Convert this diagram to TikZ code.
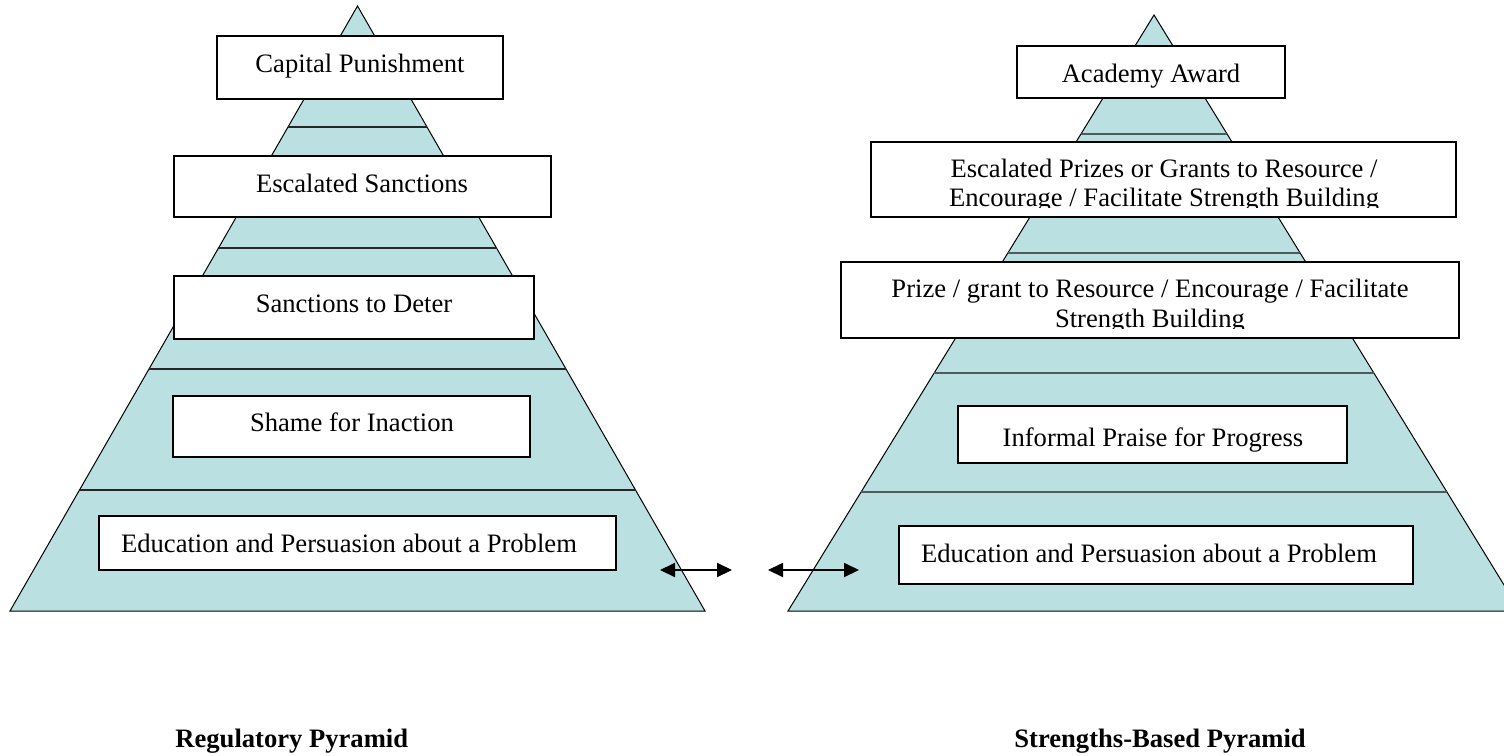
\documentclass[tikz,border=0pt]{standalone}
\usepackage{fontspec}
\setmainfont{Liberation Serif}
\usetikzlibrary{arrows.meta,fit,calc}
\definecolor{pyr}{RGB}{186,224,226}
\definecolor{bandR}{RGB}{80,90,90}
\begin{document}
\begin{tikzpicture}[x=0.5pt,y=-0.5pt,
  pyramid/.style={fill=pyr, draw=black, line width=0.5pt},
  bandL/.style={draw=black!85, line width=1pt},
  bandRs/.style={draw=bandR, line width=1pt},
  box/.style={draw=black, line width=1pt, fill=white, inner sep=0pt},
  txt/.style={font=\fontsize{13.3}{15}\selectfont, inner sep=0pt, anchor=base},
  lbl/.style={font=\fontsize{13.3}{15}\selectfont\bfseries, inner sep=0pt, anchor=base west},
  arr/.style={{Triangle[length=7.5pt,width=7pt]}-{Triangle[length=7.5pt,width=7pt]}, line width=1pt}]
\useasboundingbox (0,0) rectangle (1504,755);
\clip (0,0) rectangle (1504,755);

% Left pyramid
\coordinate (LA) at (357.5,6);
\coordinate (LBl) at (10,611);
\coordinate (LBr) at (705,611);
\draw[pyramid] (LA) -- (LBr) -- (LBl) -- cycle;
\foreach \t in {0.2,0.4,0.6,0.8} \draw[bandL] ($(LA)!\t!(LBl)$) -- ($(LA)!\t!(LBr)$);

% Right pyramid
\coordinate (RA) at (1154,15);
\coordinate (RBl) at (788,611);
\coordinate (RBr) at (1520,611);
\draw[pyramid] (RA) -- (RBr) -- (RBl) -- cycle;
\foreach \t in {0.2,0.4,0.6,0.8} \draw[bandRs] ($(RA)!\t!(RBl)$) -- ($(RA)!\t!(RBr)$);

% Left boxes
\node[box, fit={(217,36)(503,99)}] (bCap) {};
\node[txt] (tCap) at (360,72) {Capital Punishment};
\node[box, fit={(174,156)(551,217)}] (bEscS) {};
\node[txt] (tEscS) at (362,192) {Escalated Sanctions};
\node[box, fit={(174,276)(534,339)}] (bDet) {};
\node[txt] (tDet) at (354,312) {Sanctions to Deter};
\node[box, fit={(173,396)(530,457)}] (bSham) {};
\node[txt] (tSham) at (352,431) {Shame for Inaction};
\node[box, fit={(99,516)(616,570)}] (bEduL) {};
\node[txt] (tEduL) at (349,552) {Education and Persuasion about a Problem};

% Right boxes
\node[box, fit={(1017,46)(1285,98)}] (bAca) {};
\node[txt] (tAca) at (1151,82) {Academy Award};
\node[box, fit={(871,142)(1456,217)}] (bEscP) {};
\node[txt] (tEscP1) at (1164,177) {Escalated Prizes or Grants to Resource /};
\begin{scope}
\clip (871,186) rectangle (1456,207.5);
\node[txt] (tEscP2) at (1164,206) {Encourage / Facilitate Strength Building};
\end{scope}
\node[box, fit={(841,262)(1459,338)}] (bPrz) {};
\node[txt] (tPrz1) at (1150,297) {Prize / grant to Resource / Encourage / Facilitate};
\begin{scope}
\clip (841,306) rectangle (1459,328.5);
\node[txt] (tPrz2) at (1150,327) {Strength Building};
\end{scope}
\node[box, fit={(958,406)(1347,463)}] (bInf) {};
\node[txt] (tInf) at (1153,446) {Informal Praise for Progress};
\node[box, fit={(899,526)(1413,584)}] (bEduR) {};
\node[txt] (tEduR) at (1149,562) {Education and Persuasion about a Problem};

% Arrows
\coordinate (aL1) at (660,570);
\coordinate (aL2) at (732,570);
\coordinate (aR1) at (768,570);
\coordinate (aR2) at (859,570);
\draw[arr] (aL1) -- (aL2);
\draw[arr] (aR1) -- (aR2);

% Labels
\node[lbl] (labL) at (175,747) {Regulatory Pyramid};
\node[lbl] (labR) at (1014,747) {Strengths-Based Pyramid};
\end{tikzpicture}
\end{document}
